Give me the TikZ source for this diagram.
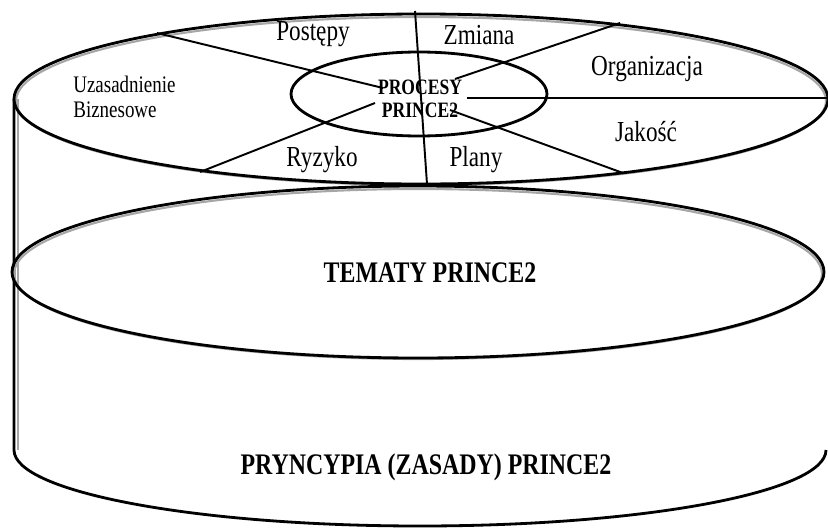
\documentclass[tikz,border=0pt]{standalone}
\usepackage{fontspec}
\setmainfont{Liberation Serif}[FakeStretch=0.8]

\tikzset{
  rim/.style={line width=1.6pt, black},
  shade rim/.style={line width=1.2pt, black!35},
  spoke/.style={line width=1.1pt, black},
  tema/.style={font=\fontsize{16.5}{18}\selectfont, inner sep=0pt},
  small tema/.style={font=\fontsize{13.5}{13.5}\selectfont, inner sep=0pt, align=left},
  heading/.style={font=\fontsize{17}{19}\selectfont\bfseries, inner sep=0pt}
}

\begin{document}
\begin{tikzpicture}[x=0.02cm, y=-0.02cm]
\useasboundingbox (0,0) rectangle (828,531);

% cylinder body
\draw[shade rim] (18,99) -- (18,450);
\draw[rim] (14,99) -- (14,450) arc[start angle=180, end angle=0, x radius=406, y radius=76];

% layers
\draw[shade rim] (421,101) ellipse[x radius=405, y radius=84];
\draw[rim] (421,99) ellipse[x radius=407, y radius=85];
\draw[shade rim] (418,274) ellipse[x radius=404, y radius=85];
\draw[rim] (418,272) ellipse[x radius=406, y radius=86];
\draw[rim] (419,94) ellipse[x radius=128, y radius=42];

% texts
\node[tema] (postepy) at (313,34) {Postępy};
\node[tema] (zmiana) at (479,35) {Zmiana};
\node[tema] (organizacja) at (647,69) {Organizacja};
\node[tema] (jakosc) at (646,132) {Jakość};
\node[tema] (ryzyko) at (322,160) {Ryzyko};
\node[tema] (plany) at (476,160) {Plany};
\node[small tema, anchor=west] (uzasadnienie) at (73,97) {Uzasadnienie\\[1pt]Biznesowe};
\node[font=\fontsize{12.5}{13}\selectfont\bfseries, inner sep=0pt, align=center] (procesy) at (420,99) {PROCESY\\PRINCE2};
\node[heading] (tematy) at (430,273) {TEMATY PRINCE2};
\node[heading] (pryncypia) at (426,467) {PRYNCYPIA (ZASADY) PRINCE2};

% spokes
\draw[spoke] (157,33) -- (383,88);
\draw[spoke] (200,172) -- (375,103);
\draw[spoke] (415,11) -- (427,184);
\draw[spoke] (620,23) -- (455,79);
\draw[spoke] (828,98) -- (467,98);
\draw[spoke] (623,173) -- (450,110);
\end{tikzpicture}
\end{document}
